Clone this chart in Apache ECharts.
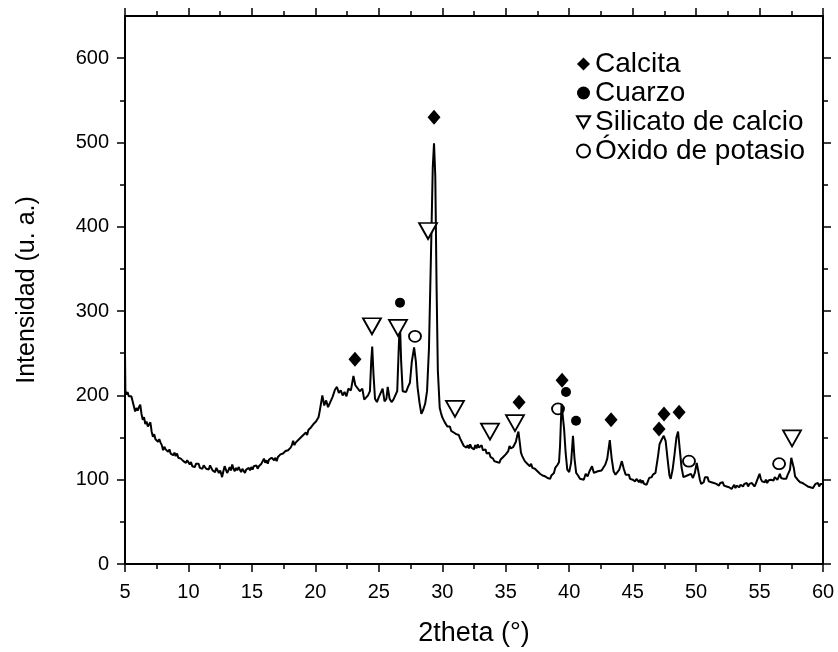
<!DOCTYPE html>
<html>
<head>
<meta charset="utf-8">
<script src="https://cdn.jsdelivr.net/npm/echarts@6/dist/echarts.min.js"></script>
<style>html,body{margin:0;padding:0;background:#fff;}#c{width:838px;height:652px;}</style>
</head>
<body>
<div id="c"></div>
<script>
// ---- data: XRD pattern segments, [2theta (deg), intensity (u. a.)] ----
const scan05to20 = [[5.0,250],[5.03,206],[5.1,201],[5.2,204],[5.3,199],[5.4,197],[5.5,199],[5.6,193],[5.7,195],[5.8,181],[5.9,185],[6.0,182],[6.1,186],[6.2,189],[6.3,178],[6.4,171],[6.5,174],[6.6,166],[6.7,169],[6.8,163],[6.9,165],[7.0,168],[7.1,157],[7.2,151],[7.3,154],[7.4,148],[7.5,150],[7.6,145],[7.7,148],[7.8,144],[7.9,141],[8.0,135],[8.1,139],[8.2,136],[8.3,138],[8.4,133],[8.5,136],[8.6,131],[8.7,133],[8.8,129],[8.9,132],[9.0,128],[9.1,131],[9.2,126],[9.3,128],[9.4,125],[9.5,127],[9.6,122],[9.7,124],[9.8,120],[9.9,123],[10.0,121],[10.1,118],[10.2,121],[10.3,116],[10.4,118],[10.5,115],[10.6,119],[10.7,117],[10.8,119],[10.9,114],[11.0,116],[11.1,113],[11.2,117],[11.3,118],[11.4,113],[11.5,115],[11.6,112],[11.7,117],[11.8,114],[11.9,111],[12.0,113],[12.1,109],[12.2,114],[12.3,112],[12.4,108],[12.5,111],[12.6,106],[12.65,103],[12.75,110],[12.85,116],[12.95,112],[13.05,108],[13.15,111],[13.25,115],[13.35,111],[13.45,118],[13.55,113],[13.65,110],[13.75,114],[13.85,111],[13.95,115],[14.05,112],[14.15,109],[14.25,113],[14.35,111],[14.45,108],[14.55,112],[14.65,110],[14.75,114],[14.85,111],[14.95,115],[15.05,112],[15.15,116],[15.25,114],[15.35,117],[15.45,113],[15.55,116],[15.65,114],[15.75,119],[15.85,121],[15.95,125],[16.05,120],[16.15,123],[16.25,119],[16.35,124],[16.45,122],[16.55,126],[16.65,128],[16.75,123],[16.85,126],[16.95,122],[17.05,127],[17.15,125],[17.25,130],[17.35,128],[17.45,131],[17.55,129],[17.65,134],[17.75,132],[17.85,135],[17.95,134],[18.05,138],[18.15,141],[18.25,146],[18.35,141],[18.45,144],[18.55,142],[18.65,147],[18.75,145],[18.85,150],[18.95,148],[19.05,153],[19.15,151],[19.25,156],[19.35,153],[19.45,159],[19.55,157],[19.65,162],[19.75,160],[19.85,166],[19.95,164],[20.05,169],[20.15,167],[20.25,174]];
const scan20to30 = [[20.35,182],[20.55,200],[20.7,188],[20.85,194],[21.0,186],[21.15,184],[21.35,198],[21.55,207],[21.7,210],[21.85,203],[22.0,206],[22.15,200],[22.3,204],[22.45,199],[22.6,208],[22.8,206],[23.0,223],[23.15,212],[23.3,211],[23.5,205],[23.7,208],[23.85,195],[24.0,193],[24.15,200],[24.3,205],[24.4,240],[24.48,258],[24.58,225],[24.7,196],[24.85,192],[25.0,198],[25.15,196],[25.3,208],[25.45,193],[25.6,196],[25.7,210],[25.85,196],[26.0,192],[26.15,195],[26.3,193],[26.45,205],[26.58,260],[26.66,288],[26.76,240],[26.88,205],[27.0,203],[27.15,204],[27.3,210],[27.45,215],[27.6,240],[27.78,257],[27.92,240],[28.05,210],[28.2,192],[28.35,178],[28.5,183],[28.65,190],[28.8,205],[28.95,255],[29.1,360],[29.25,470],[29.35,499],[29.45,460],[29.55,330],[29.65,230]];
const scan30to45 = [[29.8,185],[29.9,179],[30.0,174],[30.1,171],[30.2,168],[30.3,169],[30.4,163],[30.5,161],[30.6,163],[30.7,158],[30.8,159],[30.9,156],[31.0,158],[31.1,154],[31.2,152],[31.3,153],[31.4,149],[31.5,148],[31.6,143],[31.7,140],[31.8,142],[31.9,138],[32.0,141],[32.1,137],[32.2,142],[32.3,138],[32.4,140],[32.5,136],[32.6,141],[32.7,137],[32.8,142],[32.9,138],[33.0,140],[33.1,141],[33.2,135],[33.3,134],[33.4,136],[33.5,131],[33.6,130],[33.7,132],[33.8,127],[33.9,128],[34.0,125],[34.1,122],[34.2,124],[34.3,121],[34.4,123],[34.5,120],[34.6,124],[34.7,122],[34.8,127],[34.9,125],[35.0,130],[35.1,128],[35.2,134],[35.3,140],[35.4,137],[35.5,135],[35.6,139],[35.7,142],[35.8,145],[35.9,152],[36.0,157],[36.1,145],[36.2,132],[36.3,128],[36.4,125],[36.5,122],[36.6,124],[36.7,119],[36.8,121],[36.9,116],[37.0,119],[37.1,114],[37.2,116],[37.3,113],[37.4,115],[37.5,110],[37.6,112],[37.7,107],[37.8,109],[37.9,105],[38.0,107],[38.1,104],[38.2,106],[38.3,102],[38.4,104],[38.5,101],[38.6,105],[38.7,104],[38.8,108],[38.9,114],[39.0,116],[39.1,118],[39.2,121],[39.28,140],[39.4,190],[39.5,192],[39.6,160],[39.72,132],[39.85,112],[40.0,109],[40.15,120],[40.3,152],[40.42,125],[40.55,108],[40.7,105],[40.85,101],[41.0,103],[41.15,100],[41.3,107],[41.45,104],[41.6,110],[41.8,116],[41.95,108],[42.1,106],[42.25,110],[42.4,108],[42.55,111],[42.7,112],[42.85,118],[43.0,125],[43.2,147],[43.35,125],[43.5,110],[43.65,106],[43.8,108],[43.95,112],[44.15,122],[44.3,113],[44.45,106]];
const scan45to60 = [[44.6,104],[44.7,106],[44.8,101],[44.9,103],[45.0,100],[45.1,102],[45.2,98],[45.3,101],[45.4,99],[45.5,97],[45.6,100],[45.7,96],[45.8,99],[45.9,95],[46.0,97],[46.1,94],[46.2,98],[46.3,102],[46.4,104],[46.5,103],[46.6,106],[46.7,105],[46.8,108],[46.9,110],[47.0,128],[47.12,142],[47.3,148],[47.45,152],[47.6,146],[47.75,125],[47.9,105],[48.0,101],[48.15,112],[48.3,130],[48.45,150],[48.58,157],[48.72,135],[48.85,115],[49.0,103],[49.15,101],[49.3,105],[49.45,103],[49.6,107],[49.75,102],[49.9,108],[50.05,120],[50.15,118],[50.3,100],[50.4,95],[50.5,93],[50.6,97],[50.7,103],[50.8,101],[50.9,103],[51.0,98],[51.1,100],[51.2,97],[51.3,99],[51.4,96],[51.5,98],[51.6,95],[51.7,97],[51.8,93],[51.9,96],[52.0,94],[52.1,97],[52.2,93],[52.3,95],[52.4,92],[52.5,94],[52.6,91],[52.7,93],[52.8,89],[52.9,91],[53.0,94],[53.1,90],[53.2,93],[53.3,95],[53.4,91],[53.5,94],[53.6,96],[53.7,92],[53.8,95],[53.9,93],[54.0,96],[54.1,92],[54.2,95],[54.3,93],[54.4,96],[54.5,94],[54.6,92],[54.7,95],[54.8,97],[54.9,103],[55.0,107],[55.1,101],[55.2,98],[55.3,99],[55.4,97],[55.5,100],[55.6,96],[55.7,99],[55.8,97],[55.9,100],[56.0,102],[56.1,99],[56.2,103],[56.3,101],[56.4,100],[56.5,103],[56.6,107],[56.7,102],[56.8,104],[56.9,101],[57.0,103],[57.1,101],[57.2,105],[57.3,106],[57.4,112],[57.5,126],[57.6,127],[57.7,114],[57.8,104],[57.9,103],[58.0,100],[58.1,101],[58.2,97],[58.3,99],[58.4,96],[58.5,97],[58.6,94],[58.7,95],[58.8,92],[58.9,94],[59.0,91],[59.1,93],[59.2,90],[59.3,92],[59.4,95],[59.5,93],[59.6,96],[59.7,92],[59.8,95],[59.9,96],[60.0,95]];

// phase markers [2theta, intensity]
const calcita = [[23.12,243],[29.35,530],[36.05,192],[39.44,218],[43.3,171],[47.08,160],[47.47,178],[48.66,180]];
const cuarzo = [[26.67,310],[39.75,204],[40.54,170]];
const silicato = [[24.46,282],[26.51,280],[28.88,395],[31.0,184],[33.76,157],[35.73,167],[57.56,149]];
const oxido = [[27.85,270],[39.12,184],[49.44,122],[56.54,119]];

const phaseNames = ['Calcita', 'Cuarzo', 'Silicato de calcio', 'Óxido de potasio'];
const yTicks = [0,100,200,300,400,500,600];
const yMinor = [50,150,250,350,450,550];

const lineData = scan05to20.concat(scan20to30, scan30to45, scan45to60);

const numFont = "'Liberation Sans', Arial, sans-serif";
const txtFont = "'Liberation Sans', Arial, sans-serif";

const chart = echarts.init(document.getElementById('c'), null, {renderer: 'canvas'});

const baseX = {
  type: 'value', min: 5, max: 60, interval: 5,
  axisLine: {show: true, onZero: false, lineStyle: {color: '#000', width: 2}},
  axisTick: {show: true, inside: false, length: 8, lineStyle: {color: '#000', width: 1.5}},
  minorTick: {show: true, splitNumber: 2, length: 5, lineStyle: {color: '#000', width: 1.5}},
  splitLine: {show: false}, minorSplitLine: {show: false}
};

function yAx(pos, major, labels) {
  return {
    type: 'value', min: 0, max: 650, position: pos,
    axisLine: {show: major, onZero: false, lineStyle: {color: '#000', width: 2}},
    axisTick: {show: true, inside: false, length: major ? 8 : 5, customValues: major ? yTicks : yMinor,
      lineStyle: {color: '#000', width: 1.5}},
    axisLabel: labels ? {show: true, customValues: yTicks, margin: 16, color: '#000', fontSize: 20, fontFamily: numFont}
                      : {show: false},
    splitLine: {show: false}
  };
}

const option = {
  animation: false,
  backgroundColor: '#fff',
  grid: {left: 125, right: 15, top: 16, bottom: 87, containLabel: false},
  legend: {
    orient: 'vertical', left: 571, top: 45,
    data: phaseNames,
    itemWidth: 13, itemHeight: 13, itemGap: 1,
    textStyle: {color: '#000', fontSize: 28, fontFamily: txtFont, lineHeight: 28},
    selectedMode: false
  },
  xAxis: [
    Object.assign({}, baseX, {
      position: 'bottom',
      axisLabel: {show: true, margin: 18, color: '#000', fontSize: 20, fontFamily: numFont},
      name: '2theta (°)', nameLocation: 'middle', nameGap: 56,
      nameTextStyle: {color: '#000', fontSize: 27, fontFamily: txtFont}
    }),
    Object.assign({}, baseX, {position: 'top', axisLabel: {show: false}})
  ],
  yAxis: [
    Object.assign(yAx('left', true, true), {
      name: 'Intensidad (u. a.)', nameLocation: 'middle', nameGap: 85,
      nameTextStyle: {color: '#000', fontSize: 25, fontFamily: txtFont}
    }),
    yAx('left', false, false),
    yAx('right', true, false),
    yAx('right', false, false)
  ],
  series: [
    {
      type: 'line', name: 'XRD', data: lineData, xAxisIndex: 0, yAxisIndex: 0,
      showSymbol: false, symbol: 'none', smooth: false,
      lineStyle: {color: '#000', width: 2}, z: 2
    },
    {
      type: 'scatter', name: phaseNames[0], data: calcita, symbol: 'diamond', symbolSize: [13, 15],
      itemStyle: {color: '#000', opacity: 1}, z: 5
    },
    {
      type: 'scatter', name: phaseNames[1], data: cuarzo, symbol: 'circle', symbolSize: 10,
      itemStyle: {color: '#000', opacity: 1}, z: 5
    },
    {
      type: 'scatter', name: phaseNames[2], data: silicato,
      symbol: 'path://M0,0L20,0L10,18Z', symbolSize: [18, 16],
      itemStyle: {color: '#fff', borderColor: '#000', borderWidth: 1.8, opacity: 1}, z: 5
    },
    {
      type: 'scatter', name: phaseNames[3], data: oxido, symbol: 'circle', symbolSize: [12, 11],
      itemStyle: {color: 'rgba(255,255,255,0)', borderColor: '#000', borderWidth: 1.8, opacity: 1}, z: 5
    }
  ]
};
chart.setOption(option);
</script>
</body>
</html>
